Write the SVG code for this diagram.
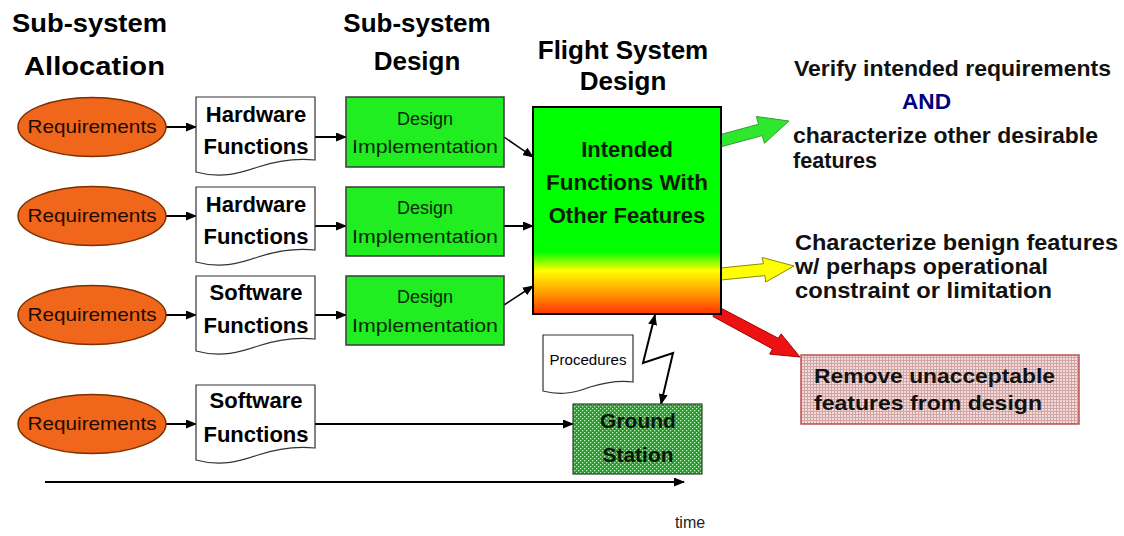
<svg xmlns="http://www.w3.org/2000/svg" width="1124" height="536" viewBox="0 0 1124 536">
<defs>
<style>
.t{font-family:"Liberation Sans",Arial,sans-serif;fill:#000}
.b{font-weight:bold}
.title{font-size:26px;font-weight:bold}
.req{fill:#f0661a;stroke:#7a3000;stroke-width:1.5}
.reqt{font-size:19px;fill:#1e0a00}
.doc{fill:#fff;stroke:#333;stroke-width:1.2}
.doct{font-size:22px;font-weight:bold}
.des{fill:#20ee20;stroke:#3a3a3a;stroke-width:1.5}
.dest{font-size:18px;fill:#0a2a0a}
.ln{fill:none;stroke:#000;stroke-width:2}
.rt{font-size:22px;font-weight:bold;fill:#111}
</style>
<marker id="ah" markerUnits="userSpaceOnUse" markerWidth="11" markerHeight="9" refX="10" refY="4.5" orient="auto-start-reverse">
<path d="M0,0 L11,4.5 L0,9 z" fill="#000"/>
</marker>
<linearGradient id="fsg" x1="0" y1="0" x2="0" y2="1">
<stop offset="0" stop-color="#00ff00"/>
<stop offset="0.7" stop-color="#00ff00"/>
<stop offset="0.79" stop-color="#ffff00"/>
<stop offset="0.9" stop-color="#ff9900"/>
<stop offset="1" stop-color="#ff3300"/>
</linearGradient>
<pattern id="gsp" width="4" height="4" patternUnits="userSpaceOnUse">
<rect width="4" height="4" fill="#269a26"/>
<rect x="0" y="0" width="1.3" height="1.3" fill="#c4efc4"/>
<rect x="2" y="2" width="1.3" height="1.3" fill="#c4efc4"/>
</pattern>
<pattern id="rmp" width="3" height="3" patternUnits="userSpaceOnUse">
<rect width="3" height="3" fill="#f6dada"/>
<rect x="0" y="0" width="3" height="1" fill="#cfa6a6"/>
<rect x="0" y="0" width="1" height="3" fill="#cfa6a6"/>
</pattern>
<path id="docshape" d="M0,0 H119 V63 C100,61 80,64 62,70 C45,76 25,82 0,75 Z"/>
</defs>
<rect width="1124" height="536" fill="#fff"/>

<g id="titles" class="t">
<text class="t title" x="12" y="32" textLength="155" lengthAdjust="spacingAndGlyphs">Sub-system</text>
<text class="t title" x="24" y="75" textLength="141" lengthAdjust="spacingAndGlyphs">Allocation</text>
<text class="t title" x="417" y="32" text-anchor="middle">Sub-system</text>
<text class="t title" x="417" y="70" text-anchor="middle">Design</text>
<text class="t title" x="623" y="59" text-anchor="middle">Flight System</text>
<text class="t title" x="623" y="90" text-anchor="middle">Design</text>
</g>

<g id="connectors">
<line class="ln" x1="166" y1="127" x2="196" y2="127" marker-end="url(#ah)"/>
<line class="ln" x1="166" y1="216" x2="196" y2="216" marker-end="url(#ah)"/>
<line class="ln" x1="166" y1="315" x2="196" y2="315" marker-end="url(#ah)"/>
<line class="ln" x1="166" y1="424" x2="196" y2="424" marker-end="url(#ah)"/>
<line class="ln" x1="315" y1="137" x2="346" y2="137" marker-end="url(#ah)"/>
<line class="ln" x1="315" y1="226" x2="346" y2="226" marker-end="url(#ah)"/>
<line class="ln" x1="315" y1="315" x2="346" y2="315" marker-end="url(#ah)"/>
<line class="ln" x1="315" y1="424" x2="573" y2="424" marker-end="url(#ah)"/>
<line class="ln" x1="504" y1="137" x2="533" y2="157" marker-end="url(#ah)" style="stroke-width:1.5"/>
<line class="ln" x1="504" y1="226" x2="533" y2="226" marker-end="url(#ah)"/>
<line class="ln" x1="504" y1="305" x2="533" y2="286" marker-end="url(#ah)" style="stroke-width:1.5"/>
<polyline class="ln" points="655,315 643,363 673,353 661,404" marker-start="url(#ah)" marker-end="url(#ah)"/>
<line class="ln" x1="45" y1="482" x2="684" y2="482" marker-end="url(#ah)"/>
<polygon points="717.8,135.3 758.6,124.2 756.3,116.5 789,121 764.5,143.3 762.2,135.6 721.4,146.7" fill="#2ee82e" stroke="#3a9a3a" stroke-width="1"/>
<polygon points="715,268.5 763.5,263.7 762.2,257.5 794,266 765.7,282 764.9,275.6 716,280.5" fill="#ffff00" stroke="#8a8a00" stroke-width="1"/>
<polygon points="716,305.5 778.3,338.3 781.1,333.9 800,357 769.7,354.1 772.5,348.9 713,316.5" fill="#ee1111" stroke="#a00000" stroke-width="1"/>
</g>

<g id="req1"><ellipse class="req" cx="92" cy="127" rx="74" ry="29.5"/><text class="t reqt" x="92" y="133" text-anchor="middle" textLength="129" lengthAdjust="spacingAndGlyphs">Requirements</text></g>
<g id="req2"><ellipse class="req" cx="92" cy="216" rx="74" ry="29.5"/><text class="t reqt" x="92" y="222" text-anchor="middle" textLength="129" lengthAdjust="spacingAndGlyphs">Requirements</text></g>
<g id="req3"><ellipse class="req" cx="92" cy="315" rx="74" ry="29.5"/><text class="t reqt" x="92" y="321" text-anchor="middle" textLength="129" lengthAdjust="spacingAndGlyphs">Requirements</text></g>
<g id="req4"><ellipse class="req" cx="92" cy="424" rx="74" ry="29.5"/><text class="t reqt" x="92" y="430" text-anchor="middle" textLength="129" lengthAdjust="spacingAndGlyphs">Requirements</text></g>

<g id="hw1"><use href="#docshape" class="doc" x="196" y="97"/><text class="t doct" x="256" y="122" text-anchor="middle">Hardware</text><text class="t doct" x="256" y="154" text-anchor="middle">Functions</text></g>
<g id="hw2"><use href="#docshape" class="doc" x="196" y="187"/><text class="t doct" x="256" y="212" text-anchor="middle">Hardware</text><text class="t doct" x="256" y="244" text-anchor="middle">Functions</text></g>
<g id="sw1"><use href="#docshape" class="doc" x="196" y="276"/><text class="t doct" x="256" y="300" text-anchor="middle">Software</text><text class="t doct" x="256" y="333" text-anchor="middle">Functions</text></g>
<g id="sw2"><use href="#docshape" class="doc" x="196" y="385"/><text class="t doct" x="256" y="408" text-anchor="middle">Software</text><text class="t doct" x="256" y="442" text-anchor="middle">Functions</text></g>

<g id="des1"><rect class="des" x="346" y="97" width="158" height="70"/><text class="t dest" x="425" y="125" text-anchor="middle">Design</text><text class="t dest" x="425" y="153" text-anchor="middle" textLength="146" lengthAdjust="spacingAndGlyphs">Implementation</text></g>
<g id="des2"><rect class="des" x="346" y="187" width="158" height="69"/><text class="t dest" x="425" y="214" text-anchor="middle">Design</text><text class="t dest" x="425" y="243" text-anchor="middle" textLength="146" lengthAdjust="spacingAndGlyphs">Implementation</text></g>
<g id="des3"><rect class="des" x="346" y="276" width="158" height="69"/><text class="t dest" x="425" y="303" text-anchor="middle">Design</text><text class="t dest" x="425" y="332" text-anchor="middle" textLength="146" lengthAdjust="spacingAndGlyphs">Implementation</text></g>

<g id="flight"><rect x="533" y="107" width="188" height="207" fill="url(#fsg)" stroke="#000" stroke-width="2"/>
<text class="t doct" x="627" y="157" text-anchor="middle" style="fill:#0a1a0a">Intended</text>
<text class="t doct" x="627" y="190" text-anchor="middle" style="fill:#0a1a0a" textLength="162" lengthAdjust="spacingAndGlyphs">Functions With</text>
<text class="t doct" x="627" y="223" text-anchor="middle" style="fill:#0a1a0a">Other Features</text></g>

<g id="procedures"><path d="M543,335 H633 V382 C619,380 603,383 590,387 C577,392 562,396 543,391 Z" class="doc"/><text class="t" x="588" y="365" text-anchor="middle" font-size="14" textLength="77" lengthAdjust="spacingAndGlyphs">Procedures</text></g>

<g id="ground"><rect x="573" y="404" width="129" height="70" fill="url(#gsp)" stroke="#2a4a2a" stroke-width="1.2"/>
<text class="t b" x="638" y="428" text-anchor="middle" font-size="21" style="fill:#061806">Ground</text>
<text class="t b" x="638" y="462" text-anchor="middle" font-size="21" style="fill:#061806">Station</text></g>

<g id="verify">
<text class="t rt" x="794" y="76" textLength="317" lengthAdjust="spacingAndGlyphs">Verify intended requirements</text>
<text class="t rt" x="902" y="109" textLength="49" lengthAdjust="spacingAndGlyphs" style="fill:#000080">AND</text>
<text class="t rt" x="793" y="143" textLength="305" lengthAdjust="spacingAndGlyphs">characterize other desirable</text>
<text class="t rt" x="793" y="168" textLength="84" lengthAdjust="spacingAndGlyphs">features</text>
</g>
<g id="benign">
<text class="t rt" x="795" y="250" textLength="323" lengthAdjust="spacingAndGlyphs">Characterize benign features</text>
<text class="t rt" x="795" y="274" textLength="253" lengthAdjust="spacingAndGlyphs">w/ perhaps operational</text>
<text class="t rt" x="795" y="298" textLength="257" lengthAdjust="spacingAndGlyphs">constraint or limitation</text>
</g>
<g id="remove"><rect x="801" y="355" width="278" height="69" fill="url(#rmp)" stroke="#c05050" stroke-width="1.5"/>
<text class="t rt" x="814" y="383" style="font-size:21px" textLength="241" lengthAdjust="spacingAndGlyphs">Remove unacceptable</text>
<text class="t rt" x="814" y="410" style="font-size:21px" textLength="228" lengthAdjust="spacingAndGlyphs">features from design</text></g>

<g id="timelabel"><text class="t" x="690" y="528" text-anchor="middle" font-size="16" style="fill:#222">time</text></g>
</svg>
